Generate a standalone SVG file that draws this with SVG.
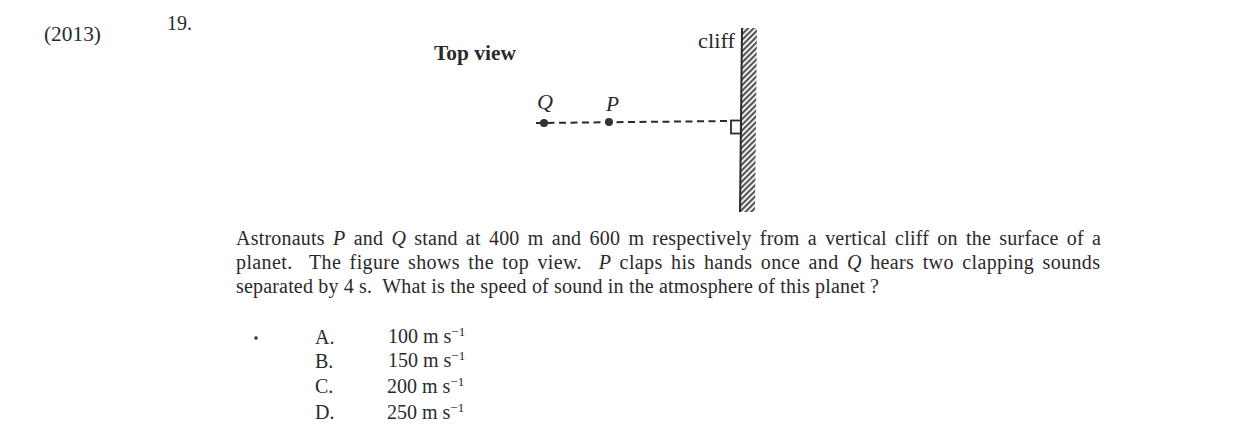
<svg xmlns="http://www.w3.org/2000/svg" width="1240" height="438" viewBox="0 0 1240 438">
<style>
text{font-family:"Liberation Serif","Times New Roman",serif;fill:#2a2a2a;font-size:20px}
.b{font-weight:bold}
.i{font-style:italic}
.sup{font-size:13px}
.ln{stroke:#2a2a2a;fill:none}
.w{word-spacing:3px}
</style>
<defs>
<pattern id="hatch" width="4" height="4" patternUnits="userSpaceOnUse" patternTransform="rotate(-45)">
<rect width="4" height="4" fill="#efefef"/>
<rect width="4" height="1.8" fill="#444"/>
</pattern>
</defs>
<rect width="1240" height="438" fill="#fff"/>
<text x="44" y="41" textLength="57" lengthAdjust="spacingAndGlyphs">(2013)</text>
<text x="167" y="30" textLength="25" lengthAdjust="spacingAndGlyphs">19.</text>
<text x="434" y="60" class="b" textLength="82" lengthAdjust="spacingAndGlyphs">Top view</text>
<g id="cliff">
<path d="M742 28L757 28L755 212L740 212Z" fill="url(#hatch)"/>
<path class="ln" stroke-width="2" d="M742 28L740 212"/>
<text x="698" y="48" textLength="37" lengthAdjust="spacingAndGlyphs">cliff</text>
</g>
<g id="connectors">
<path class="ln" stroke-width="2" stroke-dasharray="7 4.5" d="M536 123L731 121"/>
<rect class="ln" stroke-width="1.8" x="731" y="120.500" width="10" height="13" fill="#fff"/>
</g>
<g id="node-Q">
<circle cx="544" cy="123" r="4" fill="#333"/>
<text x="537" y="109" class="i" textLength="16" lengthAdjust="spacingAndGlyphs">Q</text>
</g>
<g id="node-P">
<circle cx="609" cy="122" r="4" fill="#333"/>
<text x="606" y="111" class="i" font-size="18" textLength="13" lengthAdjust="spacingAndGlyphs">P</text>
</g>
<g id="question">
<text x="236" y="245" class="w" textLength="865" xml:space="preserve">Astronauts <tspan class="i">P</tspan> and <tspan class="i">Q</tspan> stand at 400 m and 600 m respectively from a vertical cliff on the surface of a</text>
<text x="236" y="269" class="w" textLength="864" xml:space="preserve">planet.  The figure shows the top view.  <tspan class="i">P</tspan> claps his hands once and <tspan class="i">Q</tspan> hears two clapping sounds</text>
<text x="236" y="293" textLength="643" xml:space="preserve">separated by 4 s.  What is the speed of sound in the atmosphere of this planet ?</text>
</g>
<g id="options">
<circle cx="256" cy="338" r="1.800" fill="#333"/>
<text x="315" y="344">A.</text><text x="388" y="343">100 m s<tspan class="sup" dy="-7">−1</tspan></text>
<text x="315" y="368">B.</text><text x="388" y="367">150 m s<tspan class="sup" dy="-7">−1</tspan></text>
<text x="315" y="393">C.</text><text x="387" y="393">200 m s<tspan class="sup" dy="-7">−1</tspan></text>
<text x="315" y="419">D.</text><text x="387" y="419">250 m s<tspan class="sup" dy="-7">−1</tspan></text>
</g>
</svg>
